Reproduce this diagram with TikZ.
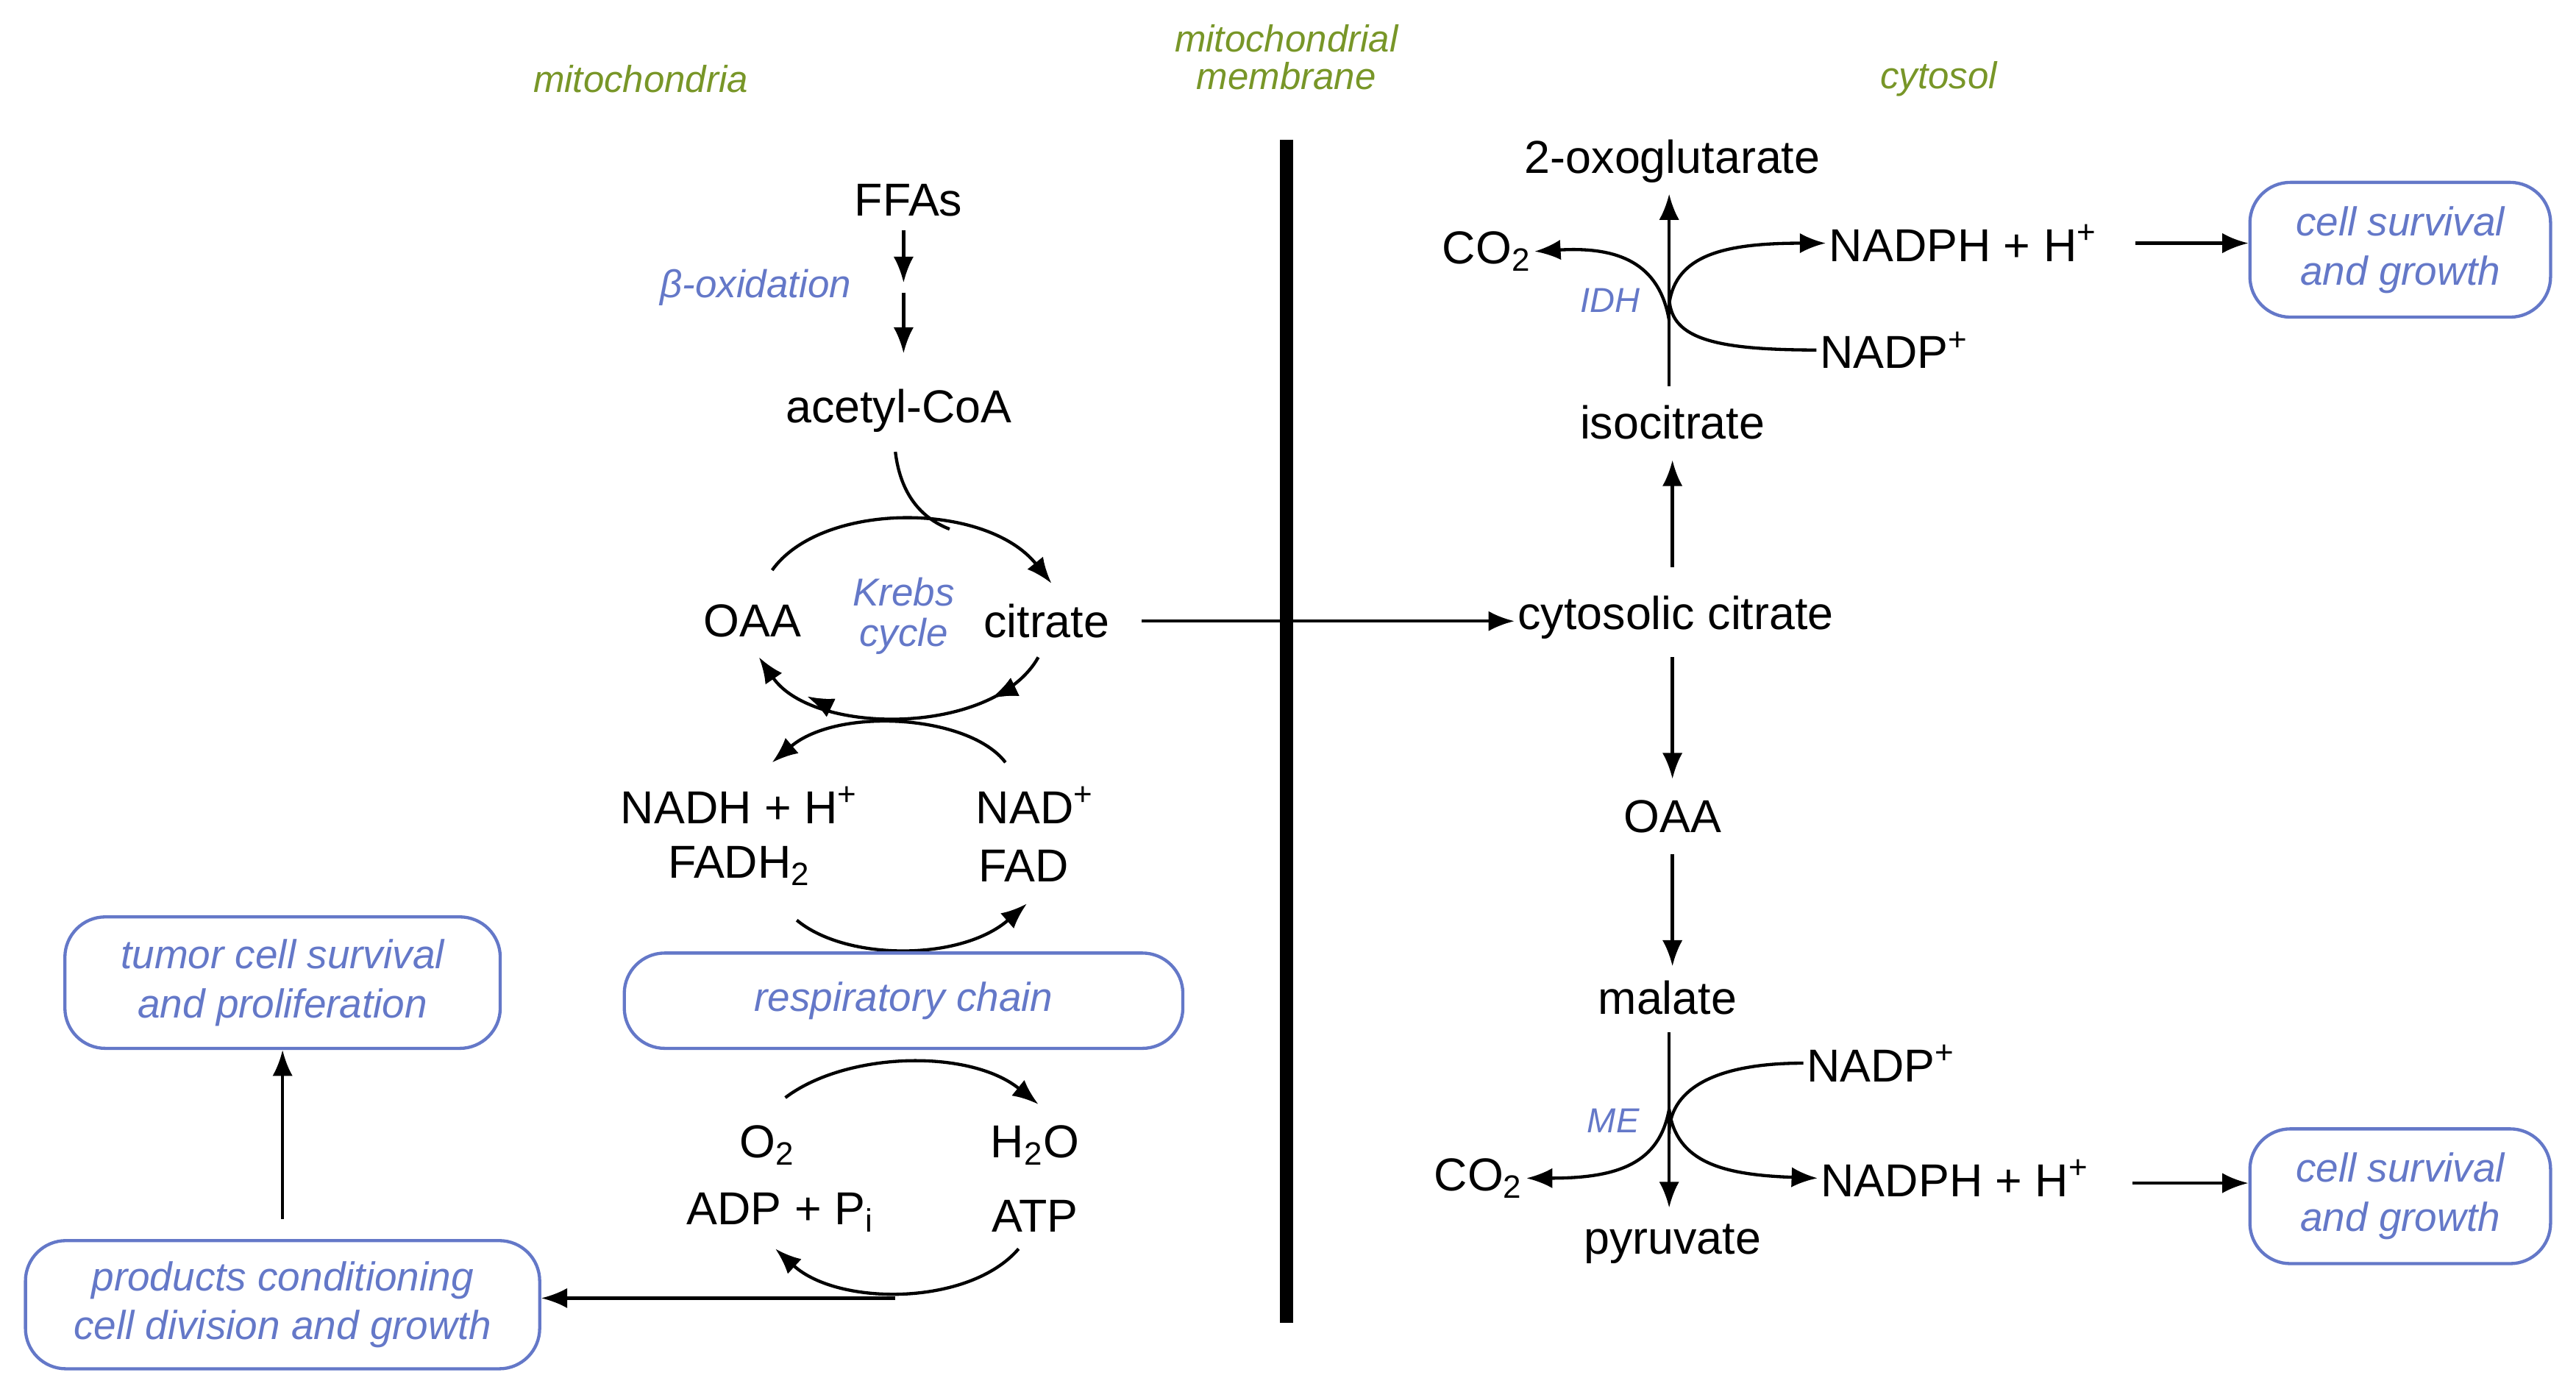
\documentclass[tikz,border=0pt]{standalone}
\usepackage{fontspec}
\setmainfont{Liberation Sans}
\usetikzlibrary{arrows.meta,decorations.markings}
\definecolor{tblue}{RGB}{100,120,200}
\definecolor{tgreen}{RGB}{120,150,40}
\newcommand{\sbs}[1]{\textsubscript{#1}}
\newcommand{\sps}[1]{\textsuperscript{#1}}
\begin{document}
\begin{tikzpicture}[x=0.02cm,y=-0.02cm,
  txt/.style={font=\fontsize{16}{19}\selectfont,inner sep=1pt,align=center},
  lab/.style={font=\fontsize{13.5}{16}\selectfont\itshape,text=tblue,inner sep=1pt,align=center},
  reg/.style={font=\fontsize{13}{15}\selectfont\itshape,text=tgreen,align=center,inner sep=1pt},
  box/.style={draw=tblue,line width=1.1pt,rounded corners=14pt,font=\fontsize{14}{17}\selectfont\itshape,text=tblue,align=center},
  arr/.style={line width=1.1pt,-{Latex[length=9pt,width=7pt]}},
  ln/.style={line width=1.1pt},
  mid/.style={postaction={decorate},decoration={markings,mark=at position #1 with {\arrow{Latex[length=9pt,width=7pt]}}}}]
\useasboundingbox (0,0) rectangle (1568,847);
% regions
\node[reg] (mito) at (390,48) {mitochondria};
\node[reg] (memb) at (783,35) {mitochondrial\\[-2pt]membrane};
\node[reg] (cyto) at (1180,48) {cytosol};
\draw[line width=4.5pt] (783,85) coordinate (m1) -- (783,805) coordinate (m2);
% mitochondria
\node[txt] (ffa) at (553,122) {FFAs};
\node[lab] (box) at (460,175) {β-oxidation};
\node[txt] (acoa) at (547,250) {acetyl-CoA};
\coordinate (f1) at (550,140);
\coordinate (b1) at (550,178);
\draw[arr] (f1) -- (550,172);
\draw[arr] (b1) -- (550,215);
\node[txt] (oaa) at (458,378) {OAA};
\node[txt] (cit) at (637,378) {citrate};
\node[lab] (krebs) at (550,375) {Krebs\\[-2pt]cycle};
\draw[arr] (470,347) .. controls (500,305) and (600,305) .. (640,355);
\draw[ln] (545,275) .. controls (548,300) and (560,315) .. (578,322);
\draw[arr,mid=0.2,mid=0.8] (632,400) .. controls (605,448) and (495,448) .. (462,400);
\draw[arr] (612,464) .. controls (590,435) and (510,430) .. (470,464);
\node[txt] (nadh) at (450,490) {NADH + H\sps{+}};
\node[txt] (fadh) at (450,527) {FADH\sbs{2}};
\node[txt] (nad) at (630,490) {NAD\sps{+}};
\node[txt] (fad) at (623,527) {FAD};
\draw[arr] (485,560) .. controls (515,585) and (585,585) .. (625,550);
\node[box,minimum width=340*0.02cm,minimum height=58*0.02cm] (resp) at (550,609) {respiratory chain};
\draw[arr] (478,668) .. controls (515,640) and (590,638) .. (632,672);
\node[txt] (o2) at (467,697) {O\sbs{2}};
\node[txt] (adp) at (475,738) {ADP + P\sbs{i}};
\node[txt] (h2o) at (630,697) {H\sbs{2}O};
\node[txt] (atp) at (630,740) {ATP};
\draw[arr] (620,760) .. controls (590,795) and (510,795) .. (472,760);
\node[box,minimum width=313*0.02cm,minimum height=78*0.02cm] (prod) at (172,794) {products conditioning\\cell division and growth};
\node[box,minimum width=265*0.02cm,minimum height=80*0.02cm] (tumor) at (172,598) {tumor cell survival\\and proliferation};
\coordinate (pj) at (545,790);
\draw[arr] (pj) -- (pj -| prod.east);
\draw[arr] (172,742) -- (tumor.south);
% cytosol
\node[txt] (ccit) at (1020,376) {cytosolic citrate};
\coordinate (c0) at (695,378);
\draw[arr] (c0) -- (c0 -| ccit.west);
\node[txt] (iso) at (1018,257) {isocitrate};
\draw[arr] (1018,345) -- (1018,280);
\node[txt] (oxo) at (1018,98) {2-oxoglutarate};
\draw[arr] (1016,235) -- (1016,118);
\node[txt] (co2a) at (905,153) {CO\sbs{2}};
\node[txt] (nadpha) at (1195,148) {NADPH + H\sps{+}};
\node[txt] (nadpa) at (1153,213) {NADP\sps{+}};
\node[lab,font=\fontsize{12}{14}\selectfont\itshape] (idh) at (980,183) {IDH};
\draw[arr] (1016,195) .. controls (1010,160) and (985,150) .. (co2a.east);
\draw[ln] (nadpa.west) .. controls (1040,213) and (1016,205) .. (1016,180);
\draw[arr] (1016,185) .. controls (1020,155) and (1050,148) .. (nadpha.west);
\node[box,minimum width=183*0.02cm,minimum height=82*0.02cm] (cs1) at (1461,152) {cell survival\\and growth};
\coordinate (s1) at (1300,148);
\draw[arr] (s1) -- (s1 -| cs1.west);
\node[txt] (oaa2) at (1018,497) {OAA};
\node[txt] (mal) at (1015,607) {malate};
\draw[arr] (1018,400) -- (1018,474);
\draw[arr] (1018,520) -- (1018,588);
\node[txt] (pyr) at (1018,757) {pyruvate};
\draw[arr] (1016,628) -- (1016,735);
\node[txt] (nadpb) at (1145,647) {NADP\sps{+}};
\node[txt] (nadphb) at (1190,717) {NADPH + H\sps{+}};
\node[txt] (co2b) at (900,717) {CO\sbs{2}};
\node[lab,font=\fontsize{12}{14}\selectfont\itshape] (me) at (982,682) {ME};
\draw[ln] (nadpb.west) .. controls (1040,647) and (1016,665) .. (1016,690);
\draw[arr] (1016,675) .. controls (1020,708) and (1050,715) .. (nadphb.west);
\draw[arr] (1016,675) .. controls (1010,708) and (985,717) .. (co2b.east);
\node[box,minimum width=183*0.02cm,minimum height=82*0.02cm] (cs2) at (1461,728) {cell survival\\and growth};
\coordinate (s2) at (1298,720);
\draw[arr] (s2) -- (s2 -| cs2.west);
\end{tikzpicture}
\end{document}
